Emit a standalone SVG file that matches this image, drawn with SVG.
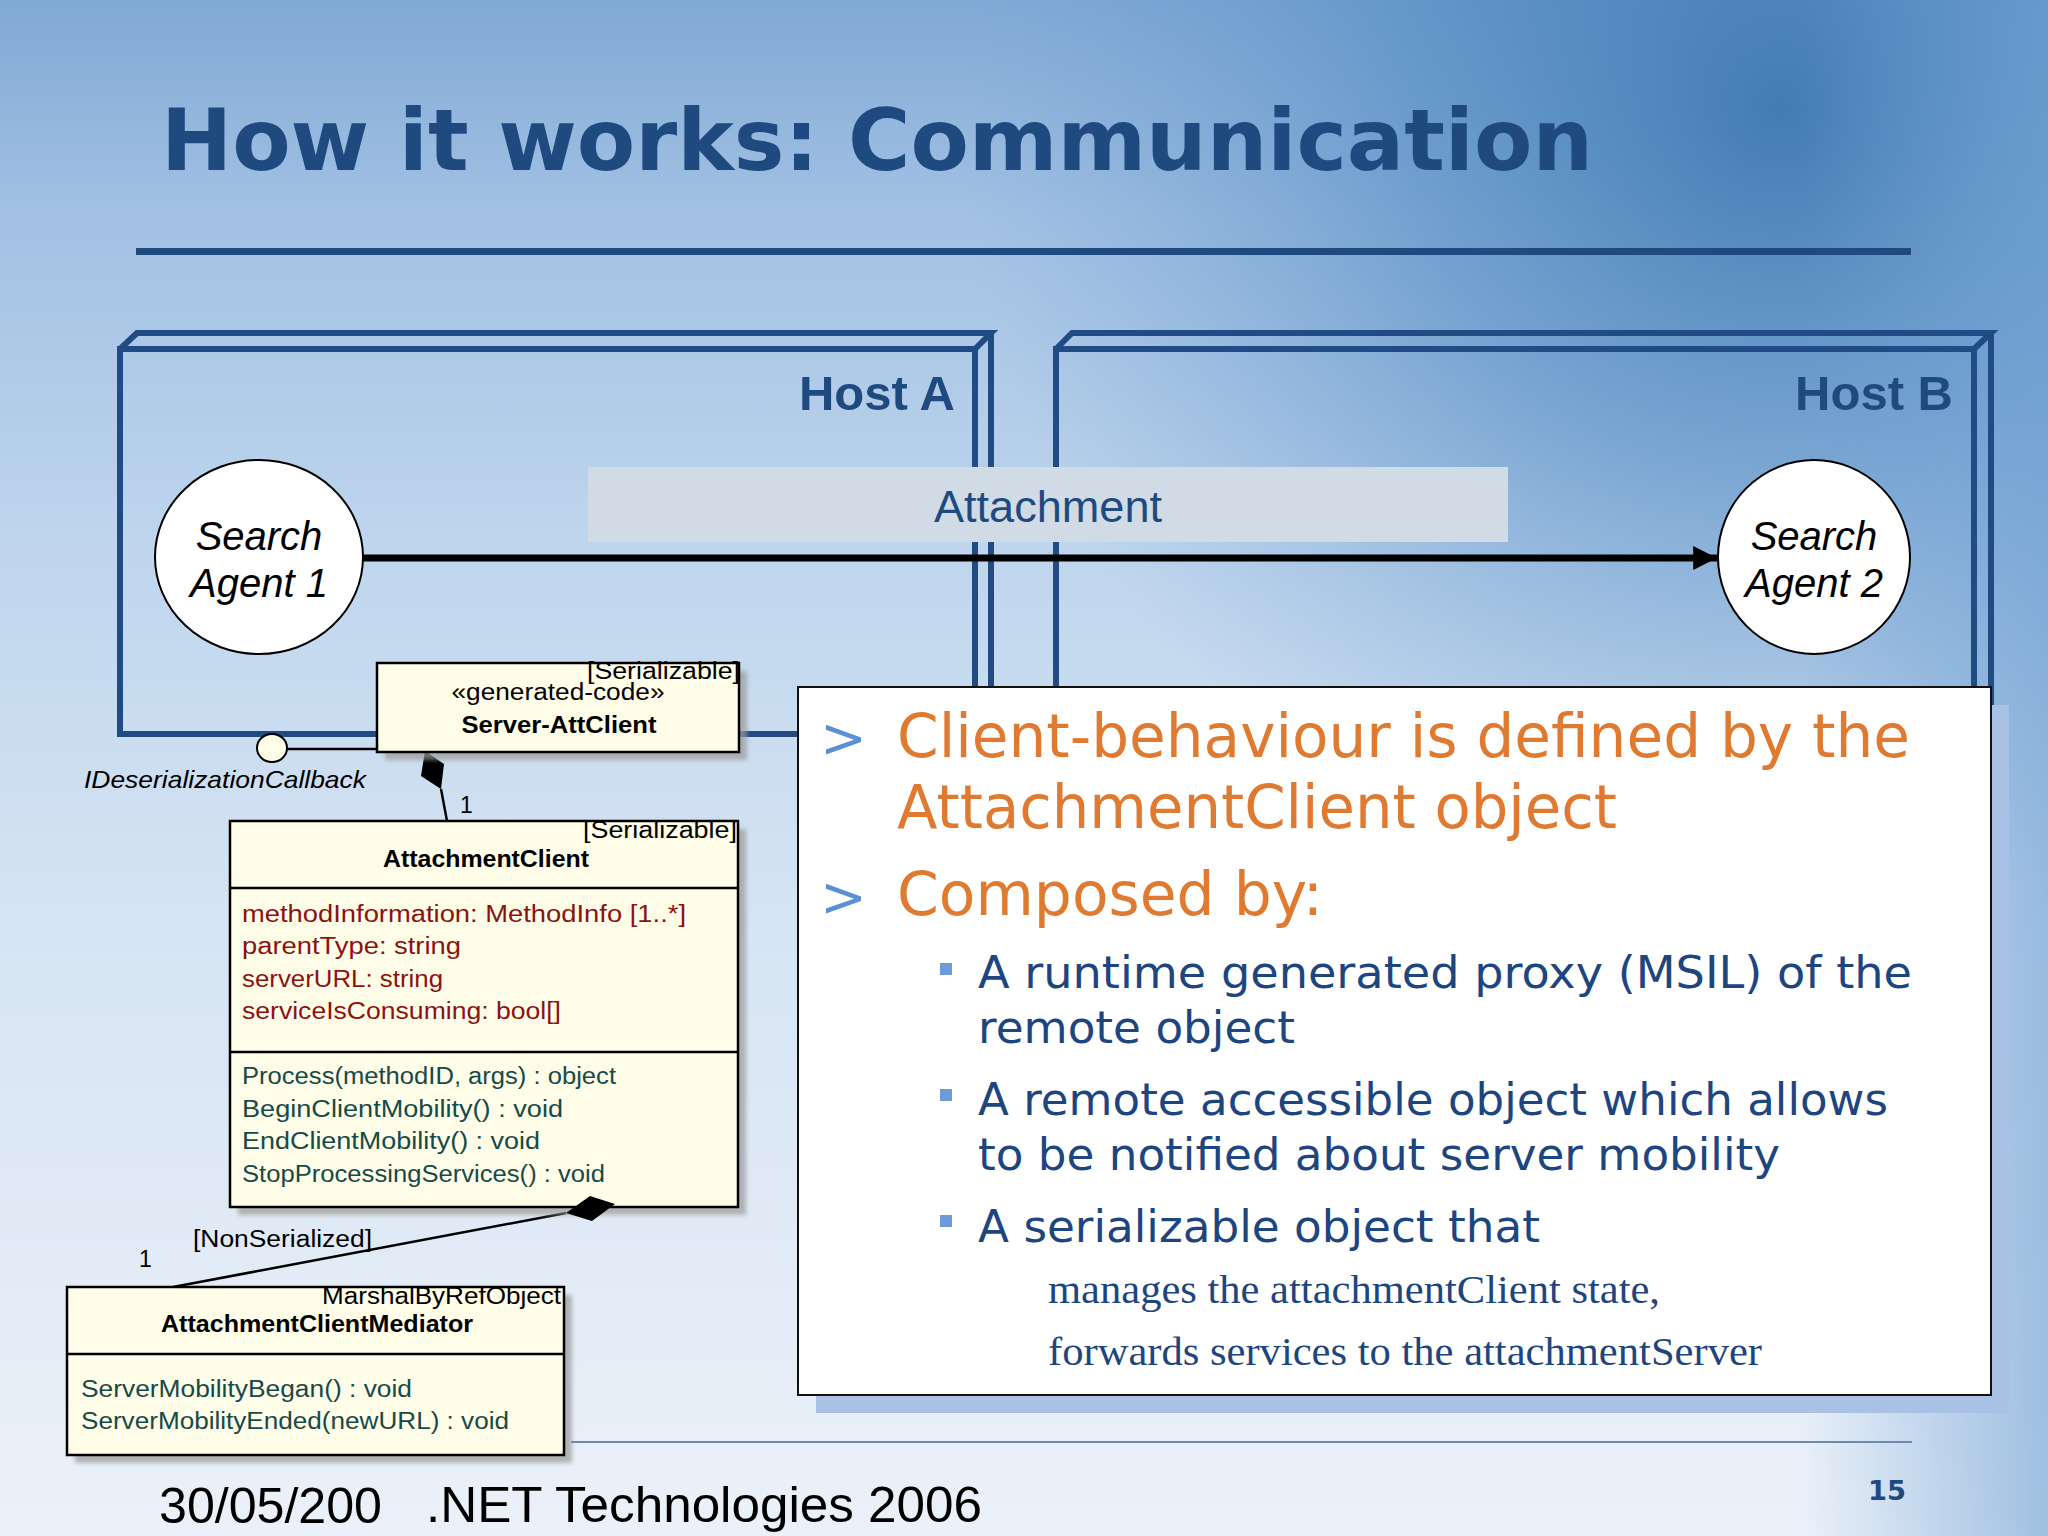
<svg xmlns="http://www.w3.org/2000/svg" width="2048" height="1536" viewBox="0 0 2048 1536">
<defs>
<linearGradient id="bgv" x1="0" y1="0" x2="0" y2="1">
<stop offset="0" stop-color="#80a9d5"/>
<stop offset="0.14" stop-color="#a2c1e3"/>
<stop offset="0.35" stop-color="#bed5ed"/>
<stop offset="0.6" stop-color="#d6e4f3"/>
<stop offset="1" stop-color="#ebf1f9"/>
</linearGradient>
<radialGradient id="bgr" cx="1780" cy="110" r="820" gradientUnits="userSpaceOnUse">
<stop offset="0" stop-color="#3a76af" stop-opacity="0.9"/>
<stop offset="0.45" stop-color="#4a85bf" stop-opacity="0.55"/>
<stop offset="1" stop-color="#6b9bd0" stop-opacity="0"/>
</radialGradient>
<linearGradient id="bgh" x1="0" y1="0" x2="1" y2="0">
<stop offset="0" stop-color="#6d9fd2" stop-opacity="0"/>
<stop offset="0.88" stop-color="#6d9fd2" stop-opacity="0"/>
<stop offset="1" stop-color="#6d9fd2" stop-opacity="0.6"/>
</linearGradient>
<filter id="soft" x="-5%" y="-5%" width="110%" height="110%"><feGaussianBlur stdDeviation="2"/></filter>
<marker id="arrow" viewBox="0 0 10 10" refX="10" refY="5" markerWidth="3.6" markerHeight="3.4" orient="auto" markerUnits="strokeWidth">
<path d="M0,0 L10,5 L0,10 Z" fill="#000"/>
</marker>
<style>
.host{fill:none;stroke:#204b84;stroke-width:6;stroke-linejoin:miter}
.hostlbl{font-family:"Liberation Sans",Arial,sans-serif;font-weight:bold;font-size:49px;fill:#1f4a80;text-anchor:end}
.agent{fill:#fff;stroke:#000;stroke-width:2}
.agenttxt{font-family:"Liberation Sans",Arial,sans-serif;font-style:italic;font-size:40px;fill:#000;text-anchor:middle}
.box{fill:#fffde8;stroke:#000;stroke-width:2.5}
.shadow{fill:#9a9a9a;opacity:0.7;filter:url(#soft)}
.uml{font-family:"Liberation Sans",Arial,sans-serif;font-size:23px;fill:#000}
.umlb{font-family:"Liberation Sans",Arial,sans-serif;font-size:24px;font-weight:bold;fill:#000}
.attr{font-family:"Liberation Sans",Arial,sans-serif;font-size:23px;fill:#8c1212}
.oper{font-family:"Liberation Sans",Arial,sans-serif;font-size:23px;fill:#164a48}
.conn{stroke:#000;stroke-width:2.5;fill:none}
.p1{font-family:"DejaVu Sans",Verdana,sans-serif;font-size:60px;fill:#df7a30}
.chev{font-family:"DejaVu Sans",Verdana,sans-serif;font-size:56px;fill:#5b8fd6}
.p2{font-family:"DejaVu Sans",Verdana,sans-serif;font-size:44px;fill:#1d4580}
.p3{font-family:"Liberation Serif","Times New Roman",serif;font-size:40px;fill:#1d4580}
.bul{fill:#6b9bd8}
.foot{font-family:"Liberation Sans",Arial,sans-serif;font-size:50px;fill:#000}
</style>
</defs>

<g id="background">
<rect x="0" y="0" width="2048" height="1536" fill="url(#bgv)"/>
<rect x="0" y="0" width="2048" height="1536" fill="url(#bgr)"/>
<rect x="0" y="0" width="2048" height="1536" fill="url(#bgh)"/>
</g>

<g id="title">
<text x="161" y="170" font-family="'DejaVu Sans',Verdana,sans-serif" font-weight="bold" font-size="85" fill="#1f4a80" textLength="1432" lengthAdjust="spacingAndGlyphs">How it works: Communication</text>
<rect x="136" y="248" width="1775" height="7" fill="#1f4a80"/>
</g>

<g id="hostA">
<path class="host" d="M120,349 H975 V734 H120 Z"/>
<path class="host" d="M120,349 L137,333 H991 L975,349"/>
<path class="host" d="M991,333 V718 L975,734"/>
<text class="hostlbl" x="955" y="410">Host A</text>
</g>

<g id="hostB">
<path class="host" d="M1056,349 H1974 V734 H1056 Z"/>
<path class="host" d="M1056,349 L1072,333 H1991 L1974,349"/>
<path class="host" d="M1991,333 V718 L1974,734"/>
<text class="hostlbl" x="1953" y="410">Host B</text>
</g>

<g id="attachment-band">
<rect x="588" y="467" width="920" height="75" fill="#d1dbe5"/>
<text x="1048" y="522" font-family="'Liberation Sans',Arial,sans-serif" font-size="45" fill="#1f4a80" text-anchor="middle" textLength="228" lengthAdjust="spacingAndGlyphs">Attachment</text>
</g>

<g id="connectors">
<line x1="362" y1="558" x2="1717" y2="558" stroke="#000" stroke-width="7" marker-end="url(#arrow)"/>
<line class="conn" x1="287" y1="749" x2="377" y2="749" stroke-width="2"/>
<line class="conn" x1="441" y1="789" x2="447" y2="821"/>
<polygon points="425,751 444,764 441,789 421,776" fill="#000"/>
<line class="conn" x1="566" y1="1213" x2="173" y2="1287"/>
</g>

<g id="agent1">
<ellipse class="agent" cx="259" cy="557" rx="104" ry="97"/>
<text class="agenttxt" x="259" y="550">Search</text>
<text class="agenttxt" x="259" y="597">Agent 1</text>
</g>

<g id="agent2">
<ellipse class="agent" cx="1814" cy="557" rx="96" ry="97"/>
<text class="agenttxt" x="1814" y="550">Search</text>
<text class="agenttxt" x="1814" y="597">Agent 2</text>
</g>

<g id="server-attclient">
<rect class="shadow" x="385" y="671" width="362" height="89"/>
<rect class="box" x="377" y="663" width="362" height="89"/>
<text class="uml" x="740" y="679" text-anchor="end" textLength="153" lengthAdjust="spacingAndGlyphs" font-size="22">[Serializable]</text>
<text class="uml" x="558" y="700" text-anchor="middle" textLength="213" lengthAdjust="spacingAndGlyphs" font-size="24">«generated-code»</text>
<text class="umlb" x="559" y="733" text-anchor="middle" textLength="195" lengthAdjust="spacingAndGlyphs">Server-AttClient</text>
</g>

<g id="ideserialization-interface">
<ellipse cx="272" cy="748" rx="15" ry="14" fill="#fffde8" stroke="#000" stroke-width="2"/>
<text x="84" y="788" font-family="'Liberation Sans',Arial,sans-serif" font-style="italic" font-size="24" fill="#000" textLength="282" lengthAdjust="spacingAndGlyphs">IDeserializationCallback</text>
</g>

<g id="mult-labels">
<text class="uml" x="460" y="813">1</text>
<text class="uml" x="193" y="1247" textLength="179" lengthAdjust="spacingAndGlyphs">[NonSerialized]</text>
<text class="uml" x="139" y="1267">1</text>
</g>

<g id="attachmentclient">
<rect class="shadow" x="238" y="829" width="508" height="386"/>
<rect class="box" x="230" y="821" width="508" height="386"/>
<line x1="230" y1="888" x2="738" y2="888" stroke="#000" stroke-width="2.5"/>
<line x1="230" y1="1052" x2="738" y2="1052" stroke="#000" stroke-width="2.5"/>
<text class="uml" x="737" y="838" text-anchor="end" textLength="154" lengthAdjust="spacingAndGlyphs">[Serializable]</text>
<text class="umlb" x="486" y="867" text-anchor="middle" textLength="206" lengthAdjust="spacingAndGlyphs">AttachmentClient</text>
<text class="attr" x="242" y="922" textLength="444" lengthAdjust="spacingAndGlyphs">methodInformation:  MethodInfo [1..*]</text>
<text class="attr" x="242" y="954" textLength="219" lengthAdjust="spacingAndGlyphs">parentType:  string</text>
<text class="attr" x="242" y="987" textLength="201" lengthAdjust="spacingAndGlyphs">serverURL:  string</text>
<text class="attr" x="242" y="1019" textLength="319" lengthAdjust="spacingAndGlyphs">serviceIsConsuming:  bool[]</text>
<text class="oper" x="242" y="1084" textLength="374" lengthAdjust="spacingAndGlyphs">Process(methodID, args) : object</text>
<text class="oper" x="242" y="1117" textLength="321" lengthAdjust="spacingAndGlyphs">BeginClientMobility() : void</text>
<text class="oper" x="242" y="1149" textLength="298" lengthAdjust="spacingAndGlyphs">EndClientMobility() : void</text>
<text class="oper" x="242" y="1182" textLength="363" lengthAdjust="spacingAndGlyphs">StopProcessingServices() : void</text>
<polygon points="615,1204 590,1196 566,1213 592,1221" fill="#000"/>
</g>

<g id="mediator">
<rect class="shadow" x="75" y="1295" width="497" height="168"/>
<rect class="box" x="67" y="1287" width="497" height="168"/>
<line x1="67" y1="1354" x2="564" y2="1354" stroke="#000" stroke-width="2.5"/>
<text class="uml" x="561" y="1304" text-anchor="end" textLength="239" lengthAdjust="spacingAndGlyphs">MarshalByRefObject</text>
<text class="umlb" x="161" y="1332" textLength="312" lengthAdjust="spacingAndGlyphs">AttachmentClientMediator</text>
<text class="oper" x="81" y="1397" textLength="331" lengthAdjust="spacingAndGlyphs">ServerMobilityBegan() : void</text>
<text class="oper" x="81" y="1429" textLength="428" lengthAdjust="spacingAndGlyphs">ServerMobilityEnded(newURL) : void</text>
</g>

<g id="text-panel">
<rect x="816" y="705" width="1193" height="708" fill="#a8c1e5"/>
<rect x="798" y="687" width="1193" height="708" fill="#fff" stroke="#111" stroke-width="2"/>
<text class="chev" x="820" y="757">&gt;</text>
<text class="p1" x="897" y="757" textLength="1013" lengthAdjust="spacingAndGlyphs">Client-behaviour is defined by the</text>
<text class="p1" x="897" y="828" textLength="720" lengthAdjust="spacingAndGlyphs">AttachmentClient object</text>
<text class="chev" x="820" y="916">&gt;</text>
<text class="p1" x="897" y="915" textLength="426" lengthAdjust="spacingAndGlyphs">Composed by:</text>
<rect class="bul" x="940" y="963" width="12" height="12"/>
<text class="p2" x="978" y="988" textLength="934" lengthAdjust="spacingAndGlyphs">A runtime generated proxy (MSIL) of the</text>
<text class="p2" x="978" y="1043" textLength="317" lengthAdjust="spacingAndGlyphs">remote object</text>
<rect class="bul" x="940" y="1089" width="12" height="12"/>
<text class="p2" x="978" y="1115" textLength="910" lengthAdjust="spacingAndGlyphs">A remote accessible object which allows</text>
<text class="p2" x="978" y="1170" textLength="802" lengthAdjust="spacingAndGlyphs">to be notified about server mobility</text>
<rect class="bul" x="940" y="1215" width="12" height="12"/>
<text class="p2" x="978" y="1242" textLength="562" lengthAdjust="spacingAndGlyphs">A serializable object that</text>
<text class="p3" x="1048" y="1303" textLength="612" lengthAdjust="spacingAndGlyphs">manages the attachmentClient state,</text>
<text class="p3" x="1048" y="1365" textLength="714" lengthAdjust="spacingAndGlyphs">forwards services to the attachmentServer</text>
</g>

<g id="footer">
<line x1="571" y1="1442" x2="1912" y2="1442" stroke="#7088aa" stroke-width="2"/>
<text class="foot" x="159" y="1523" textLength="223" lengthAdjust="spacingAndGlyphs">30/05/200</text>
<text class="foot" x="426" y="1522" textLength="556" lengthAdjust="spacingAndGlyphs">.NET Technologies 2006</text>
<text x="1868" y="1500" font-family="'DejaVu Sans',Verdana,sans-serif" font-weight="bold" font-size="27" fill="#1f4a80" textLength="38" lengthAdjust="spacingAndGlyphs">15</text>
</g>
</svg>
